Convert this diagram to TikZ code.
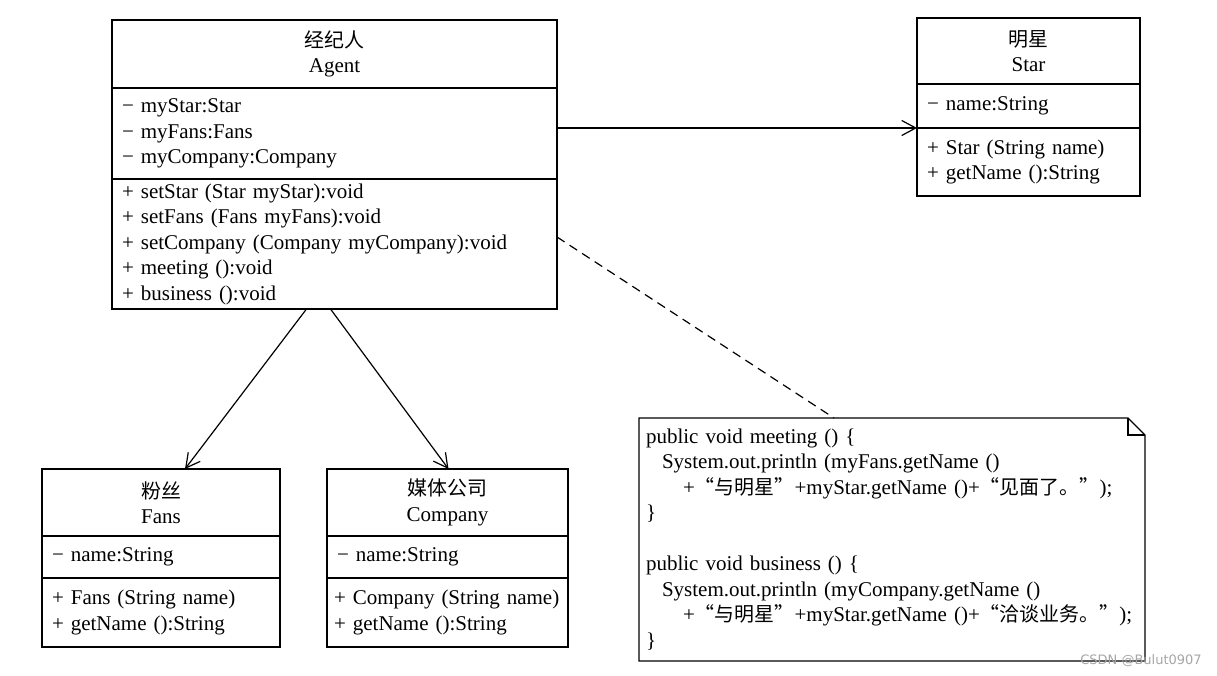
\documentclass[tikz,border=0pt]{standalone}
\usepackage{fontspec}
\setmainfont{Liberation Serif}
\newfontfamily\cjk[Scale=0.95]{Noto Sans CJK SC}
\newfontfamily\wmfont{DejaVu Sans}
\usepackage{tikz}
\usetikzlibrary{arrows.meta,positioning,calc}
\tikzset{>={Straight Barb[length=14pt,width=15pt]},
         every node/.style={font=\fontsize{21}{25.5}\selectfont,
           inner ysep=0pt, outer sep=0pt},
         umlpart/.style={draw, line width=1.2pt, inner xsep=10pt},
         classname/.style={umlpart, align=center},
         members/.style={umlpart, align=left},
         notebox/.style={line width=1.2pt},
         assoc/.style={->, line width=1.2pt}}

\begin{document}
\begin{tikzpicture}[x=1pt,y=-1pt]
  \useasboundingbox (0,0) rectangle (1217,676);
  \node (agenttitle) [classname, anchor=north west, text width=425pt,
    minimum height=68pt] at (112,20) {{\cjk 经纪人}\\Agent};
  \node (agentattr) [members, below=0pt of agenttitle, text width=425pt,
    minimum height=91pt] {− myStar:Star\\− myFans:Fans\\− myCompany:Company};
  \node (agentops) [members, below=0pt of agentattr, text width=425pt,
    minimum height=130pt] {+ setStar (Star myStar):void\\
    + setFans (Fans myFans):void\\
    + setCompany (Company myCompany):void\\
    + meeting ():void\\+ business ():void};
  \node (startitle) [classname, anchor=north west, text width=203pt,
    minimum height=66pt] at (917,18) {{\cjk 明星}\\Star};
  \node (starattr) [members, below=0pt of startitle, text width=203pt,
    minimum height=44pt] {− name:String};
  \node (starops) [members, below=0pt of starattr, text width=203pt,
    minimum height=68pt] {+ Star (String name)\\+ getName ():String};
  \node (fanstitle) [classname, anchor=north west, text width=218pt,
    minimum height=67pt] at (42,469) {{\cjk 粉丝}\\Fans};
  \node (fansattr) [members, below=0pt of fanstitle, text width=218pt,
    minimum height=42pt] {− name:String};
  \node (fansops) [members, below=0pt of fansattr, text width=218pt,
    minimum height=69pt] {+ Fans (String name)\\+ getName ():String};
  \node (comptitle) [classname, anchor=north west, text width=221pt,
    minimum height=67pt] at (327,469) {{\cjk 媒体公司}\\Company};
  \node (compattr) [members, below=0pt of comptitle, text width=221pt,
    minimum height=42pt] {− name:String};
  \node (compops) [members, below=0pt of compattr, inner xsep=7pt,
    text width=227pt, minimum height=69pt]
    {+ Company (String name)\\+ getName ():String};
  \node (note) [anchor=north west, align=left, inner xsep=7pt,
    text width=492pt, minimum height=243pt] at (639,418)
    {public void meeting () \{\\
    \hspace*{16pt}System.out.println (myFans.getName ()\\
    \hspace*{37pt}+{\cjk “与明星”}+myStar.getName ()+{\cjk “见面了。”});\\
    \}\\ \mbox{}\\
    public void business () \{\\
    \hspace*{16pt}System.out.println (myCompany.getName ()\\
    \hspace*{37pt}+{\cjk “与明星”}+myStar.getName ()+{\cjk “洽谈业务。”});\\
    \}};
  \draw[notebox] (note.north west) -- ([xshift=-17pt]note.north east)
    -- ([yshift=-17pt]note.north east) -- (note.south east)
    -- (note.south west) -- cycle;
  \draw[notebox] ([xshift=-17pt]note.north east) |- ([yshift=-17pt]note.north east);
  \draw[assoc] (agentattr.east |- starattr.south) -- (starops.north west);
  \draw[assoc] ([xshift=-28pt]agentops.south) -- ([xshift=24pt]fanstitle.north);
  \draw[assoc] ([xshift=-4pt]agentops.south) -- ([xshift=1pt]comptitle.north);
  \draw[line width=1.2pt, dash pattern=on 9pt off 6pt]
    ([yshift=7pt]agentops.east) -- ([xshift=-58pt]note.north);
  \node (wm) [font=\wmfont\fontsize{13}{13}\selectfont, text=gray!70]
    at (1141,661) {CSDN @Bulut0907};
\end{tikzpicture}
\end{document}
